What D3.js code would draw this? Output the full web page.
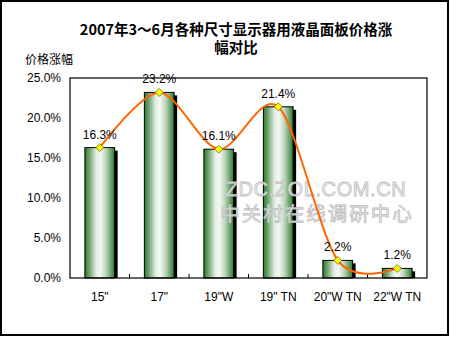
<!DOCTYPE html>
<html>
<head>
<meta charset="utf-8">
<script src="https://cdn.jsdelivr.net/npm/d3@7"></script>
<style>
  html, body { margin: 0; padding: 0; background: #fff; }
  svg { display: block; }
  text { font-family: Arial, "Liberation Sans", "Noto Sans CJK SC", sans-serif; }
</style>
</head>
<body>
<script>
// Price change of LCD panels by monitor size, Mar–Jun 2007
const categories = ['15"', '17"', '19"W', '19" TN', '20"W TN', '22"W TN'];
const values = [16.3, 23.2, 16.1, 21.4, 2.2, 1.2];
const yTicks = [0, 5, 10, 15, 20, 25];
const titleLines = ["2007年3～6月各种尺寸显示器用液晶面板价格涨", "幅对比"];
const yTitle = "价格涨幅";
const watermark = ["ZDC.ZOL.COM.CN", "中关村在线调研中心"];

const W = 450, H = 337;
const plot = { left: 70, right: 427, top: 78, bottom: 278 };

const svg = d3.select("body").append("svg")
  .attr("width", W).attr("height", H);

const defs = svg.append("defs");
const grad = defs.append("linearGradient").attr("id", "barGrad")
  .attr("x1", "0%").attr("x2", "100%").attr("y1", "0%").attr("y2", "0%");
[["0%", "#2e7a30"], ["12%", "#5f9a5f"], ["38%", "#e4eee4"], ["52%", "#f4f8f4"],
 ["72%", "#b9d3b9"], ["100%", "#2e7a30"]].forEach(([o, c]) =>
  grad.append("stop").attr("offset", o).attr("stop-color", c));

// outer frame
svg.append("rect").attr("x", 1).attr("y", 1).attr("width", 447).attr("height", 334)
  .attr("fill", "#fff").attr("stroke", "#000").attr("stroke-width", 2);

// title, two lines
svg.append("g").selectAll("text").data(titleLines).join("text")
  .attr("x", 236).attr("y", (d, i) => 35 + i * 18)
  .attr("text-anchor", "middle")
  .style("font-family", '"Noto Sans CJK SC", sans-serif')
  .style("font-weight", "bold").style("font-size", "14.5px")
  .text(d => d);

svg.append("text").attr("x", 25).attr("y", 64)
  .style("font-family", '"Noto Sans CJK SC", sans-serif')
  .style("font-size", "12px").text(yTitle);

const x = d3.scaleBand().domain(categories)
  .range([plot.left, plot.right]).paddingInner(0.5).paddingOuter(0.25);
const y = d3.scaleLinear().domain([0, 25]).range([plot.bottom, plot.top]);

// bars: shadow then gradient body
svg.append("g").selectAll("rect").data(values).join("rect")
  .attr("x", (d, i) => x(categories[i]) + 3)
  .attr("y", d => y(d) + 3)
  .attr("width", x.bandwidth())
  .attr("height", d => plot.bottom - y(d) - 3)
  .attr("fill", "#000");
svg.append("g").selectAll("rect").data(values).join("rect")
  .attr("x", (d, i) => x(categories[i]))
  .attr("y", d => y(d))
  .attr("width", x.bandwidth())
  .attr("height", d => plot.bottom - y(d))
  .attr("fill", "url(#barGrad)")
  .attr("stroke", "#000").attr("stroke-width", 1);

// plot frame
svg.append("rect").attr("x", plot.left).attr("y", plot.top)
  .attr("width", plot.right - plot.left).attr("height", plot.bottom - plot.top)
  .attr("fill", "none").attr("stroke", "#000").attr("stroke-width", 1.2);

// watermark, above the bars
const wm = svg.append("g").attr("fill", "#f4f4f4").attr("fill-opacity", 0.85)
  .attr("stroke", "#bdbdbd").attr("stroke-width", 0.8);
wm.append("text").attr("x", 316).attr("y", 196).attr("text-anchor", "middle")
  .style("font-size", "20px").style("letter-spacing", "0.6px").text(watermark[0]);
wm.append("text").attr("x", 317).attr("y", 221).attr("text-anchor", "middle")
  .style("font-family", '"Noto Sans CJK SC", sans-serif')
  .style("font-size", "19.5px").style("letter-spacing", "2px").text(watermark[1]);

// y axis labels
const yAxis = d3.axisLeft(y).tickValues(yTicks).tickSize(0).tickPadding(9)
  .tickFormat(d => d.toFixed(1) + "%");
const ya = svg.append("g").attr("transform", `translate(${plot.left},0)`).call(yAxis);
ya.select(".domain").remove();
ya.selectAll("text").style("font-size", "12px")
  .style("font-family", 'Arial, "Liberation Sans", sans-serif').attr("fill", "#000");

// x axis: category labels and inner boundary ticks
const xAxis = d3.axisBottom(x).tickSize(0).tickPadding(14);
const xa = svg.append("g").attr("transform", `translate(0,${plot.bottom})`).call(xAxis);
xa.select(".domain").remove();
xa.selectAll("text").style("font-size", "12px")
  .style("font-family", 'Arial, "Liberation Sans", sans-serif').attr("fill", "#000");
const step = x.step();
svg.append("g").selectAll("line").data(d3.range(1, categories.length)).join("line")
  .attr("x1", i => plot.left + i * step).attr("x2", i => plot.left + i * step)
  .attr("y1", plot.bottom).attr("y2", plot.bottom - 4)
  .attr("stroke", "#000").attr("stroke-width", 1);

// smoothed line through bar tops
const cx = i => x(categories[i]) + x.bandwidth() / 2;
const line = d3.line().x((d, i) => cx(i)).y(d => y(d))
  .curve(d3.curveCardinal.tension(0.1));
svg.append("path").datum(values).attr("d", line)
  .attr("fill", "none").attr("stroke", "#ff6600").attr("stroke-width", 2);

// diamond markers
const diamond = d3.symbol().type(d3.symbolDiamond2).size(40);
svg.append("g").selectAll("path").data(values).join("path")
  .attr("d", diamond)
  .attr("transform", (d, i) => `translate(${cx(i)},${y(d)})`)
  .attr("fill", "#ffff00").attr("stroke", "#6b6b00").attr("stroke-width", 0.8);

// value labels
svg.append("g").selectAll("text").data(values).join("text")
  .attr("x", (d, i) => cx(i))
  .attr("y", d => y(d) - 9)
  .attr("text-anchor", "middle")
  .style("font-size", "12px")
  .text(d => d.toFixed(1) + "%");
</script>
</body>
</html>
